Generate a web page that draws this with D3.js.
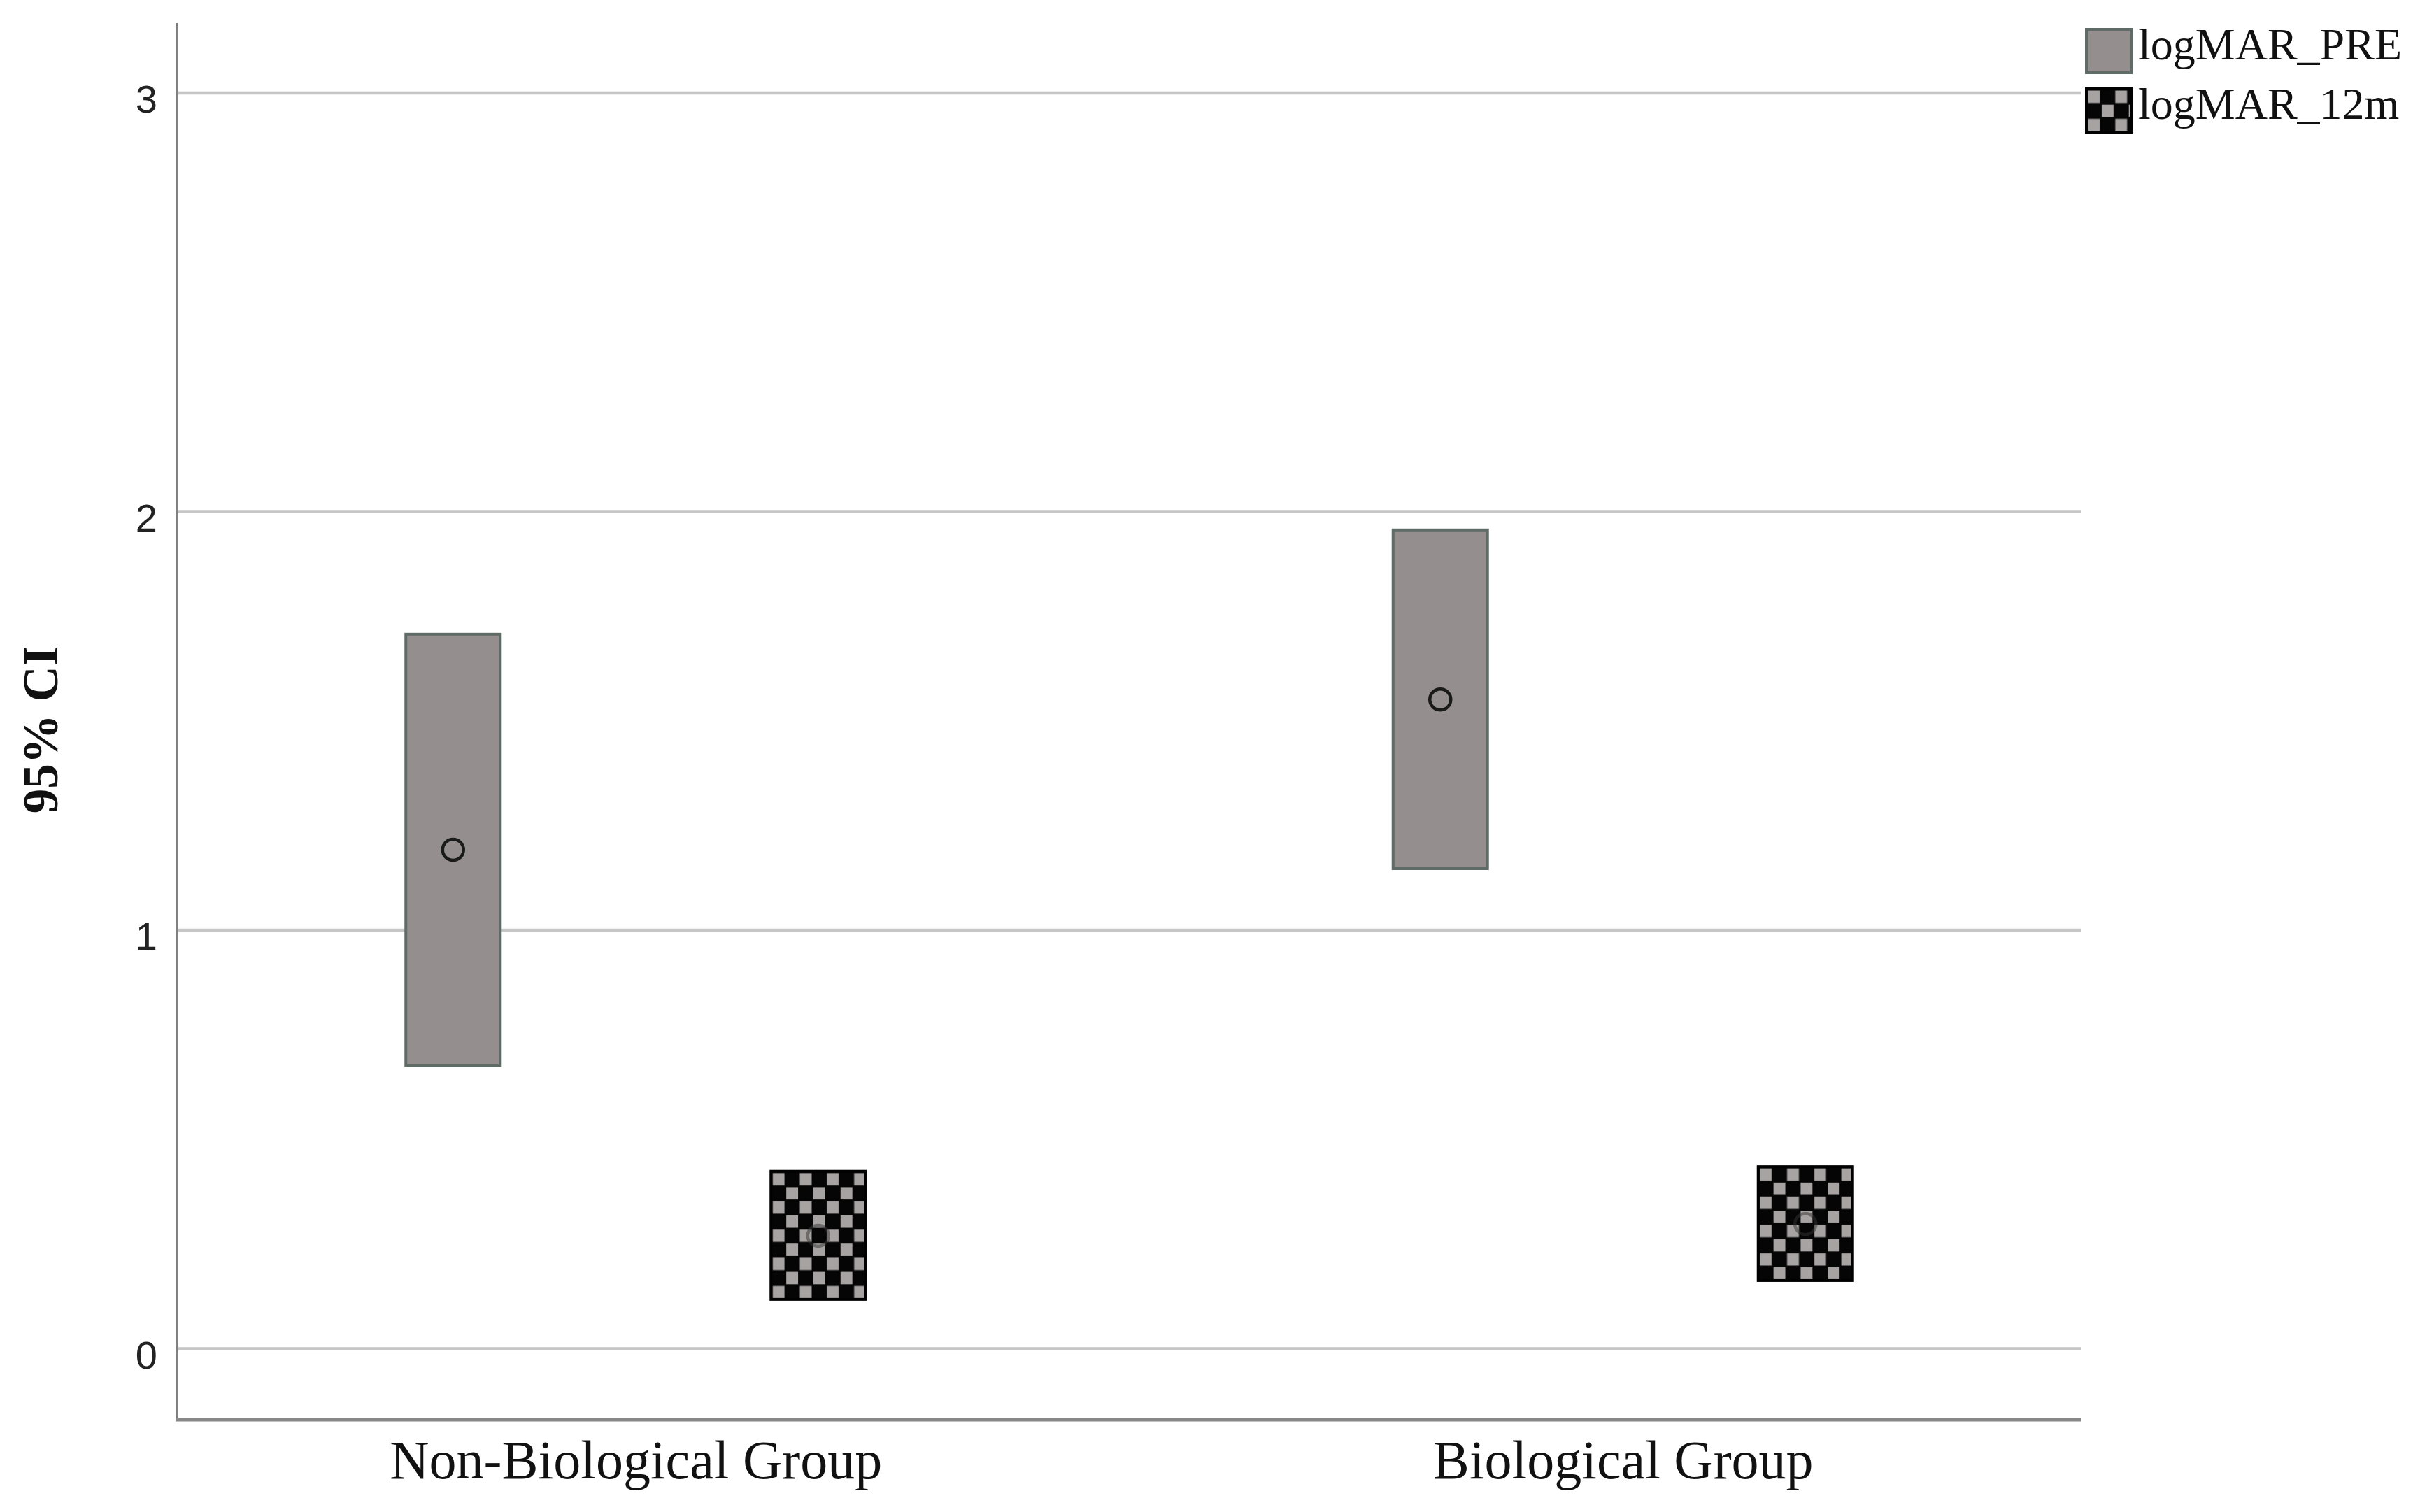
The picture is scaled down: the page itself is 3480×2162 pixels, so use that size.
<!DOCTYPE html>
<html>
<head>
<meta charset="utf-8">
<script src="https://cdn.jsdelivr.net/npm/d3@7"></script>
<style>
  html, body { margin: 0; padding: 0; background: #ffffff; }
  svg { display: block; }
</style>
</head>
<body>
<script>
// ---- Data ----
const categories = ["Non-Biological Group", "Biological Group"];
const series = ["logMAR_PRE", "logMAR_12m"];
const preLower = [0.676, 1.147];
const preMean  = [1.192, 1.551];
const preUpper = [1.707, 1.956];
const m12Lower = [0.118, 0.163];
const m12Mean  = [0.270, 0.298];
const m12Upper = [0.424, 0.435];
const yTicks = [0, 1, 2, 3];
const yTitle = "95% CI";

// ---- Layout ----
const W = 3480, H = 2162;
const plot = { left: 253, right: 2976, top: 33, bottom: 2030 };
const boxW = 135;
const preFill = "#948f8e", boxStroke = "#5f6b66";
const serif = "'Liberation Serif', 'DejaVu Serif', serif";
const sans = "'Liberation Sans', Arial, sans-serif";

const svg = d3.select("body").append("svg").attr("width", W).attr("height", H);
const defs = svg.append("defs");

const x = d3.scalePoint().domain(categories).range([plot.left, plot.right]).padding(0.4646);
const x1 = d3.scalePoint().domain(series).range([-261, 261]);
const y = d3.scaleLinear().domain([-0.1696, 3.167]).range([plot.bottom, plot.top]);

const rows = categories.map((c, i) => [
  { cat: c, s: series[0], lo: preLower[i], mean: preMean[i], hi: preUpper[i], i },
  { cat: c, s: series[1], lo: m12Lower[i], mean: m12Mean[i], hi: m12Upper[i], i }
]).flat();

// checker pattern factory
function checker(id, px, py) {
  const cw = 19.4, ch = 20.2;
  const p = defs.append("pattern").attr("id", id)
    .attr("patternUnits", "userSpaceOnUse")
    .attr("x", px + 1).attr("y", py + 1).attr("width", cw * 2).attr("height", ch * 2);
  p.append("rect").attr("width", cw * 2).attr("height", ch * 2).attr("fill", "#050505");
  p.append("rect").attr("x", 1.5).attr("y", 1.5).attr("width", cw - 2.5).attr("height", ch - 2.5).attr("fill", "#a8a3a3");
  p.append("rect").attr("x", cw + 1.5).attr("y", ch + 1.5).attr("width", cw - 2.5).attr("height", ch - 2.5).attr("fill", "#a8a3a3");
}

// gridlines
svg.append("g").selectAll("line").data(yTicks).join("line")
  .attr("x1", plot.left).attr("x2", plot.right)
  .attr("y1", d => y(d)).attr("y2", d => y(d))
  .attr("stroke", "#c6c6c6").attr("stroke-width", 4.5);

// y axis (labels only)
const yAxis = svg.append("g").attr("transform", `translate(${plot.left},0)`)
  .call(d3.axisLeft(y).tickValues(yTicks).tickSize(0).tickPadding(28).tickFormat(d3.format("d")));
yAxis.select(".domain").remove();
yAxis.selectAll("text").attr("font-family", sans).attr("font-size", 56).attr("fill", "#222").attr("dy", "0.5em");

// axis lines
svg.append("line").attr("x1", plot.left).attr("x2", plot.left).attr("y1", plot.top).attr("y2", plot.bottom + 2)
  .attr("stroke", "#808080").attr("stroke-width", 4);

// x axis
const xAxis = svg.append("g").attr("transform", `translate(0,${plot.bottom})`)
  .call(d3.axisBottom(x).tickSize(0).tickPadding(18));
xAxis.select(".domain").remove();
xAxis.selectAll("text").attr("font-family", serif).attr("font-size", 78).attr("fill", "#111").attr("dy", "0.85em");
svg.append("line").attr("x1", plot.left - 2).attr("x2", plot.right).attr("y1", plot.bottom).attr("y2", plot.bottom)
  .attr("stroke", "#888888").attr("stroke-width", 5);

// boxes
rows.forEach((d, k) => {
  const bx = x(d.cat) + x1(d.s) - boxW / 2;
  const by = y(d.hi);
  if (d.s === series[1]) checker("chk" + k, bx, by);
});
svg.append("g").selectAll("rect").data(rows).join("rect")
  .attr("x", d => x(d.cat) + x1(d.s) - boxW / 2)
  .attr("y", d => y(d.hi))
  .attr("width", boxW)
  .attr("height", d => y(d.lo) - y(d.hi))
  .attr("fill", (d, k) => d.s === series[0] ? preFill : `url(#chk${k})`)
  .attr("stroke", d => d.s === series[0] ? boxStroke : "#000")
  .attr("stroke-width", 4);

// mean markers
svg.append("g").selectAll("circle").data(rows).join("circle")
  .attr("cx", d => x(d.cat) + x1(d.s))
  .attr("cy", d => y(d.mean))
  .attr("r", 15)
  .attr("fill", "none")
  .attr("stroke", d => d.s === series[0] ? "#1a1a1a" : "#333")
  .attr("stroke-width", 4.5)
  .attr("stroke-opacity", d => d.s === series[0] ? 1 : 0.5);

// y title
svg.append("text")
  .attr("transform", `translate(82,1044) rotate(-90)`)
  .attr("text-anchor", "middle")
  .attr("font-family", serif).attr("font-size", 71).attr("font-weight", "bold").attr("fill", "#111")
  .text(yTitle);

// legend
const leg = svg.append("g");
series.forEach((s, i) => {
  const lx = 2983, ly = 42 + i * 85;
  if (i === 1) checker("legchk", lx, ly);
  leg.append("rect").attr("x", lx).attr("y", ly).attr("width", 64).attr("height", 62)
    .attr("fill", i === 0 ? preFill : "url(#legchk)")
    .attr("stroke", i === 0 ? boxStroke : "#000").attr("stroke-width", 4);
  leg.append("text").attr("x", 3057).attr("y", ly + 43)
    .attr("font-family", serif).attr("font-size", 64).attr("fill", "#111")
    .text(s);
});
</script>
</body>
</html>
